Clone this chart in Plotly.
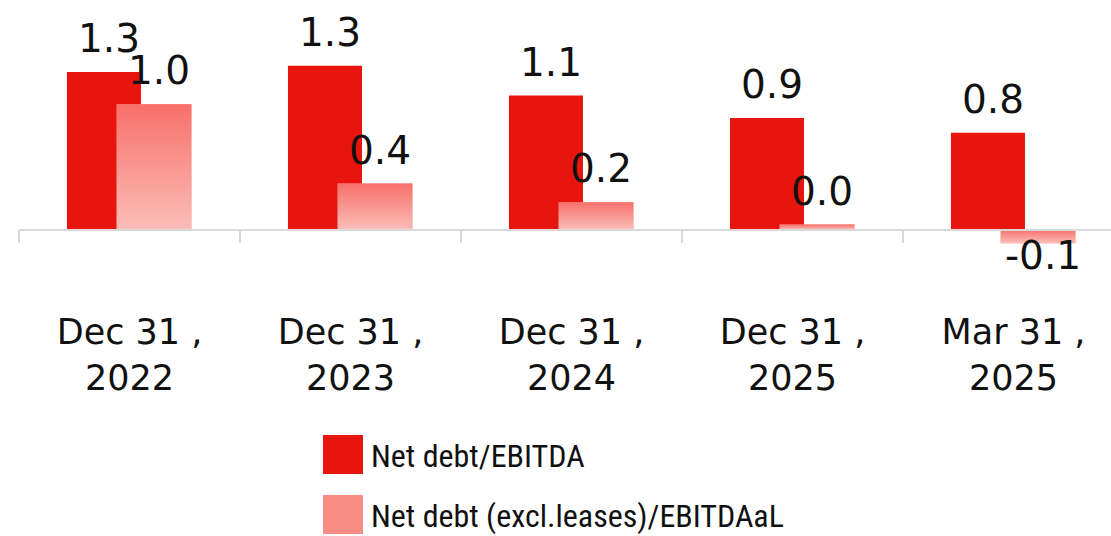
import plotly.graph_objects as go

# ---------------- data ----------------
categories = ["Dec 31 ,<br>2022", "Dec 31 ,<br>2023", "Dec 31 ,<br>2024",
              "Dec 31 ,<br>2025", "Mar 31 ,<br>2025"]
net_debt_ebitda = [1.27, 1.32, 1.08, 0.90, 0.78]
net_debt_excl_leases = [1.01, 0.37, 0.22, 0.04, -0.11]
series_names = ["Net debt/EBITDA", "Net debt (excl.leases)/EBITDAaL"]

# ---------------- style ----------------
W, H = 1111, 536
RED = "#E8150E"
PINK_TOP = "#F8706A"
PINK_BOTTOM = "#FBBDB8"
PINK_LEGEND = "#F98C83"
AXIS_GREY = "#D9D9D9"
TEXT = "#111111"
FONT = "DejaVu Sans"
LEGEND_FONT = "Liberation Sans Narrow, Roboto Condensed, DejaVu Sans Condensed, Roboto"

PLOT_LEFT_PX = 19
PLOT_BOTTOM_PX = 260
ZERO_PX = 229.5
PX_PER_CAT = 221
PX_PER_UNIT = 124

RED_OFFSET, RED_WIDTH = -0.283, 0.335
PINK_OFFSET, PINK_WIDTH = -0.058, 0.338


def px_x(p):
    return p / W


def px_y(p):
    return 1 - p / H


pos = list(range(len(categories)))

fig = go.Figure()
fig.add_trace(go.Bar(
    x=pos, y=net_debt_ebitda, offset=RED_OFFSET, width=RED_WIDTH,
    marker=dict(color=RED, line=dict(width=0)), name=series_names[0],
    showlegend=False, hoverinfo="y"))
fig.add_trace(go.Bar(
    x=pos, y=net_debt_excl_leases, offset=PINK_OFFSET, width=PINK_WIDTH,
    marker=dict(color=PINK_LEGEND, line=dict(width=0)), name=series_names[1],
    showlegend=False, hoverinfo="y"))

# vertical gradient overlay for the second series (one per bar)
for i, v in zip(pos, net_debt_excl_leases):
    x0 = i + PINK_OFFSET
    x1 = x0 + PINK_WIDTH
    fig.add_trace(go.Scatter(
        x=[x0, x1, x1, x0, x0], y=[0, 0, v, v, 0], mode="lines",
        line=dict(width=0), fill="toself",
        fillgradient=dict(type="vertical",
                          colorscale=[[0, PINK_BOTTOM], [1, PINK_TOP]]),
        hoverinfo="skip", showlegend=False))

# value labels
annotations = []
for vals, off, wd in [(net_debt_ebitda, RED_OFFSET, RED_WIDTH),
                      (net_debt_excl_leases, PINK_OFFSET, PINK_WIDTH)]:
    for i, v in zip(pos, vals):
        annotations.append(dict(
            x=i + off + wd / 2, y=v, xref="x", yref="y", text=f"{v:.1f}",
            showarrow=False, xanchor="center",
            yanchor="bottom" if v >= 0 else "top",
            yshift=9 if v >= 0 else 12, xshift=5,
            font=dict(family=FONT, size=39, color=TEXT)))

# legend (large swatches)
shapes = []
legend_colors = [RED, PINK_LEGEND]
legend_rows_px = [435, 495]
for name, col, top in zip(series_names, legend_colors, legend_rows_px):
    shapes.append(dict(type="rect", xref="paper", yref="paper",
                       x0=px_x(323), x1=px_x(363), y0=px_y(top + 39), y1=px_y(top),
                       fillcolor=col, line=dict(width=0)))
    annotations.append(dict(
        x=px_x(369), y=px_y(top + 21), xref="paper", yref="paper", text=name,
        showarrow=False, xanchor="left", yanchor="middle",
        font=dict(family=LEGEND_FONT, size=32, color=TEXT)))

fig.update_layout(
    width=W, height=H,
    margin=dict(l=0, r=0, t=0, b=0, pad=0),
    paper_bgcolor="white", plot_bgcolor="white",
    barmode="overlay", showlegend=False,
    annotations=annotations, shapes=shapes,
    xaxis=dict(
        domain=[px_x(PLOT_LEFT_PX), 1],
        range=[-0.5, -0.5 + (W - PLOT_LEFT_PX) / PX_PER_CAT],
        tickmode="array", tickvals=pos, ticktext=categories,
        ticks="", showline=True, linecolor=AXIS_GREY, linewidth=1.5,
        anchor="free", position=px_y(ZERO_PX),
        ticklabelstandoff=72,
        tickfont=dict(family=FONT, size=35, color=TEXT),
        minor=dict(tickmode="array", tickvals=[p - 0.5 for p in pos],
                   ticks="outside", ticklen=13, tickcolor=AXIS_GREY,
                   tickwidth=1.5, showgrid=False),
        showgrid=False, zeroline=False, fixedrange=True),
    yaxis=dict(
        domain=[px_y(PLOT_BOTTOM_PX), 1],
        range=[-(PLOT_BOTTOM_PX - ZERO_PX) / PX_PER_UNIT, ZERO_PX / PX_PER_UNIT],
        visible=False, showgrid=False, zeroline=False, fixedrange=True),
)

fig.write_html("out.html", config={"displayModeBar": False},
               post_script="document.body.style.margin='0';document.body.style.overflow='hidden';")
